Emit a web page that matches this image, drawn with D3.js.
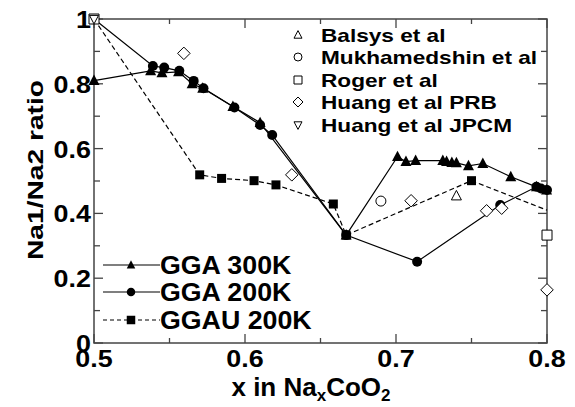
<!DOCTYPE html>
<html>
<head>
<meta charset="utf-8">
<script src="https://cdn.jsdelivr.net/npm/d3@7"></script>
<style>
  body { margin: 0; background: #fff; }
  svg { font-family: "Liberation Sans", Arial, sans-serif; font-weight: bold; }
</style>
</head>
<body>
<script>
// GGA 300K (filled triangles, solid)
var gga300X = [0.5, 0.5375, 0.545, 0.556, 0.565, 0.572, 0.592, 0.61, 0.667, 0.701, 0.7066, 0.713, 0.731, 0.7335, 0.737, 0.74, 0.748, 0.7575, 0.776, 0.793, 0.7997];
var gga300Y = [0.81, 0.84, 0.834, 0.837, 0.80, 0.786, 0.73, 0.68, 0.333, 0.575, 0.56, 0.563, 0.563, 0.560, 0.557, 0.556, 0.547, 0.554, 0.513, 0.482, 0.472];
// GGA 200K (filled circles, solid) - first point drawn under the open markers
var gga200X = [0.5, 0.539, 0.5465, 0.5565, 0.566, 0.5725, 0.593, 0.61, 0.618, 0.667, 0.714, 0.769, 0.793, 0.796, 0.8];
var gga200Y = [1.0, 0.855, 0.85, 0.84, 0.809, 0.786, 0.727, 0.673, 0.642, 0.333, 0.251, 0.426, 0.482, 0.477, 0.472];
// GGAU 200K (filled squares, dashed)
var ggauX = [0.5, 0.57, 0.5845, 0.606, 0.6205, 0.6585, 0.667, 0.75, 0.8];
var ggauY = [1.0, 0.519, 0.508, 0.501, 0.488, 0.429, 0.333, 0.501, 0.41];

// experimental references (open symbols)
var balsysX = [0.74], balsysY = [0.454];
var mukhX = [0.69], mukhY = [0.438];
var rogerX = [0.5, 0.8], rogerY = [1.0, 0.333];
var huangPrbX = [0.5595, 0.631, 0.71, 0.76, 0.77, 0.8];
var huangPrbY = [0.894, 0.519, 0.439, 0.408, 0.416, 0.164];
var huangJpcmX = [0.5], huangJpcmY = [1.0];

var xTicks = [0.5, 0.6, 0.7, 0.8];
var yTicks = [0, 0.2, 0.4, 0.6, 0.8, 1];
var refNames = ['Balsys et al', 'Mukhamedshin et al', 'Roger et al', 'Huang et al PRB', 'Huang et al JPCM'];
var calcNames = ['GGA 300K', 'GGA 200K', 'GGAU 200K'];

var W = 575, H = 407;
var svg = d3.select('body').append('svg').attr('width', W).attr('height', H);

var x = d3.scaleLinear().domain([0.5, 0.8]).range([94, 547]);
var y = d3.scaleLinear().domain([0, 1]).range([343, 19]);

function zip(xs, ys) { return xs.map(function(v, i) { return [v, ys[i]]; }); }

// the original figure's lettering is a bit wider than Arial bold
function stretch(sel, f) {
  sel.each(function() {
    var len = this.getComputedTextLength();
    d3.select(this).attr('textLength', len * f).attr('lengthAdjust', 'spacingAndGlyphs');
  });
  return sel;
}

// marker paths
function shape(kind, s) {
  var h = s / 2;
  if (kind === 'tri') return 'M0,' + (-h * 1.1) + 'L' + h + ',' + (h * 0.8) + 'L' + (-h) + ',' + (h * 0.8) + 'Z';
  if (kind === 'dtri') return 'M0,' + (h * 1.1) + 'L' + h + ',' + (-h * 0.8) + 'L' + (-h) + ',' + (-h * 0.8) + 'Z';
  if (kind === 'sq') return 'M' + (-h) + ',' + (-h) + 'h' + s + 'v' + s + 'h' + (-s) + 'Z';
  if (kind === 'dia') return 'M0,' + (-h * 1.25) + 'L' + (h * 1.25) + ',0L0,' + (h * 1.25) + 'L' + (-h * 1.25) + ',0Z';
  if (kind === 'circ') return d3.arc()({innerRadius: 0, outerRadius: h, startAngle: 0, endAngle: 2 * Math.PI});
}

var line = d3.line().x(function(d) { return x(d[0]); }).y(function(d) { return y(d[1]); });

// frame and ticks
var axisCol = '#444';
svg.append('rect').attr('x', 94).attr('y', 19).attr('width', 453).attr('height', 324)
  .attr('fill', 'none').attr('stroke', axisCol).attr('stroke-width', 1.5);

d3.range(0.5, 0.8001, 0.05).forEach(function(v, i) {
  var len = i % 2 === 0 ? 9 : 5;
  svg.append('line').attr('x1', x(v)).attr('x2', x(v)).attr('y1', 343).attr('y2', 343 - len).attr('stroke', axisCol).attr('stroke-width', 1.3);
  svg.append('line').attr('x1', x(v)).attr('x2', x(v)).attr('y1', 19).attr('y2', 19 + len).attr('stroke', axisCol).attr('stroke-width', 1.3);
});
d3.range(0, 1.0001, 0.1).forEach(function(v, i) {
  var len = i % 2 === 0 ? 9 : 6;
  svg.append('line').attr('x1', 94).attr('x2', 94 + len).attr('y1', y(v)).attr('y2', y(v)).attr('stroke', axisCol).attr('stroke-width', 1.3);
  svg.append('line').attr('x1', 547).attr('x2', 547 - len).attr('y1', y(v)).attr('y2', y(v)).attr('stroke', axisCol).attr('stroke-width', 1.3);
});

stretch(svg.selectAll('.xt').data(xTicks).enter().append('text')
  .attr('x', function(d) { return x(d); }).attr('y', 367)
  .attr('text-anchor', 'middle').attr('font-size', 24)
  .text(function(d) { return d3.format('.1f')(d); }), 1.12);
stretch(svg.selectAll('.yt').data(yTicks).enter().append('text')
  .attr('x', 91).attr('y', function(d) { return y(d) + 9; })
  .attr('text-anchor', 'end').attr('font-size', 24)
  .text(function(d) { return d === 0 || d === 1 ? String(d) : d3.format('.1f')(d); }), 1.12);

// axis titles
var xt = svg.append('text').attr('x', 311).attr('y', 396).attr('text-anchor', 'middle').attr('font-size', 26);
xt.append('tspan').text('x in Na');
xt.append('tspan').attr('font-size', 17).attr('dy', 5).text('x');
xt.append('tspan').attr('dy', -5).text('CoO');
xt.append('tspan').attr('font-size', 17).attr('dy', 5).text('2');

svg.append('text').attr('transform', 'translate(43,170) rotate(-90)')
  .attr('text-anchor', 'middle').attr('font-size', 22)
  .attr('textLength', 180).attr('lengthAdjust', 'spacingAndGlyphs')
  .text('Na1/Na2 ratio');

// calculated series
var series = [
  {pts: zip(gga300X, gga300Y), kind: 'tri', size: 11, dash: null},
  {pts: zip(gga200X, gga200Y), kind: 'circ', size: 10, dash: null},
  {pts: zip(ggauX, ggauY), kind: 'sq', size: 9, dash: '5,3'}
];
series.forEach(function(s) {
  svg.append('path').attr('d', line(s.pts)).attr('fill', 'none').attr('stroke', '#000')
    .attr('stroke-width', 1.2).attr('stroke-dasharray', s.dash);
  // markers: skip points on the frame that the open reference symbols cover
  svg.selectAll(null).data(s.pts.filter(function(p) { return !(p[0] === 0.5 && p[1] === 1.0) && !(s.kind === 'sq' && p[0] >= 0.8); }))
    .enter().append('path')
    .attr('transform', function(d) { return 'translate(' + x(d[0]) + ',' + y(d[1]) + ')'; })
    .attr('d', shape(s.kind, s.size)).attr('fill', '#000');
});

// reference data (open symbols)
var refs = [
  {pts: zip(balsysX, balsysY), kind: 'tri'},
  {pts: zip(mukhX, mukhY), kind: 'circ'},
  {pts: zip(rogerX, rogerY), kind: 'sq'},
  {pts: zip(huangPrbX, huangPrbY), kind: 'dia'},
  {pts: zip(huangJpcmX, huangJpcmY), kind: 'dtri'}
];
var refRows = [35, 57, 80, 102, 125];
refs.forEach(function(r, i) {
  svg.selectAll(null).data(r.pts).enter().append('path')
    .attr('transform', function(d) { return 'translate(' + x(d[0]) + ',' + y(d[1]) + ')'; })
    .attr('d', shape(r.kind, r.kind === 'dtri' ? 9 : 10))
    .attr('fill', '#fff').attr('stroke', '#000').attr('stroke-width', 1);
  // legend top right
  var ly = refRows[i];
  svg.append('path').attr('transform', 'translate(298,' + ly + ')')
    .attr('d', shape(r.kind, 8)).attr('fill', '#fff').attr('stroke', '#000').attr('stroke-width', 1);
  stretch(svg.append('text').attr('x', 321).attr('y', ly + 7).attr('font-size', 19).text(refNames[i]), 1.19);
});

// legend bottom left
var calcRows = [265, 292, 320];
series.forEach(function(s, i) {
  var ly = calcRows[i];
  svg.append('line').attr('x1', 103).attr('x2', 160).attr('y1', ly).attr('y2', ly)
    .attr('stroke', '#000').attr('stroke-width', 1.2).attr('stroke-dasharray', s.dash ? '4,3' : null);
  svg.append('path').attr('transform', 'translate(131,' + ly + ')').attr('d', shape(s.kind, 8.5)).attr('fill', '#000');
  stretch(svg.append('text').attr('x', 160).attr('y', ly + 9).attr('font-size', 25).text(calcNames[i]), 1.07);
});
</script>
</body>
</html>
